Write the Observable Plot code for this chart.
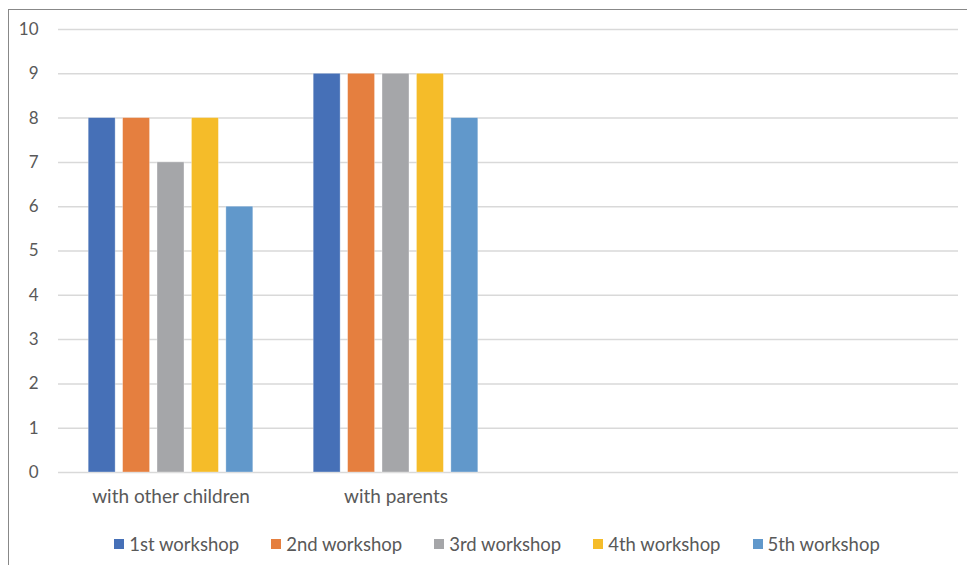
<!DOCTYPE html>
<html><head><meta charset="utf-8">
<script src="https://cdn.jsdelivr.net/npm/d3@7"></script>
<script src="https://cdn.jsdelivr.net/npm/@observablehq/plot@0.6"></script>
<style>
html,body{margin:0;padding:0;background:#fff;width:967px;height:565px;overflow:hidden}
#frame{position:absolute;left:8px;top:9px;width:1000px;height:600px;border:1.5px solid #888;box-sizing:border-box}
#chart{position:absolute;left:0;top:0}
#legend{position:absolute;top:533px;left:0;width:994px;display:flex;justify-content:center;gap:32px;font-family:Lato,"Open Sans",sans-serif;font-size:18.5px;color:#595959}
#legend span.item{display:flex;align-items:center;gap:5px;white-space:nowrap}
#legend span.sw{display:inline-block;width:10px;height:10px}
</style></head>
<body>
<div id="frame"></div>
<div id="chart"></div>
<div id="legend"></div>
<script>
const categories = ["with other children", "with parents", "", " "];
const series = ["1st workshop", "2nd workshop", "3rd workshop", "4th workshop", "5th workshop"];
const colors = ["#4670B7", "#E57F3F", "#A5A6A9", "#F5BC29", "#6198CB"];
const withOtherChildren = [8, 8, 7, 8, 6];
const withParents = [9, 9, 9, 9, 8];
const yTicks = [0, 1, 2, 3, 4, 5, 6, 7, 8, 9, 10];

const data = [];
series.forEach((s, i) => {
  data.push({category: categories[0], series: s, value: withOtherChildren[i]});
  data.push({category: categories[1], series: s, value: withParents[i]});
});
const gridData = categories.flatMap(c => yTicks.map(v => ({category: c, value: v})));

const chart = Plot.plot({
  width: 967,
  height: 515,
  marginLeft: 57,
  marginRight: 8,
  marginTop: 29,
  marginBottom: 43,
  style: {fontFamily: 'Lato, "Open Sans", sans-serif', fontSize: "16px", color: "#595959", background: "transparent"},
  fx: {domain: categories, padding: 0, label: null},
  x: {domain: series, paddingInner: 0.217, paddingOuter: 0.877, round: false, axis: null},
  y: {domain: [0, 10], axis: null},
  color: {domain: series, range: colors},
  marks: [
    Plot.ruleY(gridData, {fx: "category", y: "value", stroke: "#d9d9d9", strokeWidth: 1.5}),
    Plot.barY(data, {fx: "category", x: "series", y: "value", fill: "series", stroke: "#ffffff", strokeOpacity: 0.4, strokeWidth: 0.8}),
    Plot.axisY(yTicks, {tickSize: 0, tickPadding: 20, label: null, fill: "#595959", fontSize: 17}),
    Plot.axisFx({anchor: "bottom", tickSize: 0, tickPadding: 17, label: null, fill: "#595959", fontSize: 19})
  ]
});
document.getElementById("chart").appendChild(chart);

const legend = document.getElementById("legend");
series.forEach((s, i) => {
  const item = document.createElement("span");
  item.className = "item";
  const sw = document.createElement("span");
  sw.className = "sw";
  sw.style.background = colors[i];
  const t = document.createElement("span");
  t.textContent = s;
  item.appendChild(sw);
  item.appendChild(t);
  legend.appendChild(item);
});
</script>
</body></html>
